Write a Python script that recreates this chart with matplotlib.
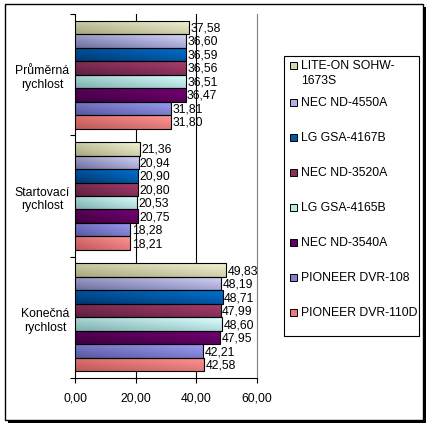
import matplotlib
matplotlib.use('Agg')
import matplotlib.pyplot as plt
import numpy as np
from matplotlib.patches import Rectangle
from matplotlib.colors import to_rgb

plt.rcParams['font.family'] = ['Liberation Sans', 'DejaVu Sans']

# kategorie (shora dolu)
groups = ['Průměrná\nrychlost', 'Startovací\nrychlost', 'Konečná\nrychlost']

# mechaniky
drives = ['LITE-ON SOHW-\n1673S', 'NEC ND-4550A', 'LG GSA-4167B', 'NEC ND-3520A',
          'LG GSA-4165B', 'NEC ND-3540A', 'PIONEER DVR-108', 'PIONEER DVR-110D']

lite_on_1673s = [37.58, 21.36, 49.83]
nec_4550a = [36.60, 20.94, 48.19]
lg_4167b = [36.59, 20.90, 48.71]
nec_3520a = [36.56, 20.80, 47.99]
lg_4165b = [36.51, 20.53, 48.60]
nec_3540a = [36.47, 20.75, 47.95]
pioneer_108 = [31.81, 18.28, 42.21]
pioneer_110d = [31.80, 18.21, 42.58]

values = [lite_on_1673s, nec_4550a, lg_4167b, nec_3520a,
          lg_4165b, nec_3540a, pioneer_108, pioneer_110d]

# barvy: (tmava, svetla) pro gradient
dark = ['#a8a880', '#7070a0', '#003870', '#602040',
        '#80b0b0', '#400040', '#5858a0', '#c05858']
light = ['#f2f2d2', '#d4d4fa', '#0070d0', '#a83c6c',
         '#dcffff', '#740074', '#9c9cf4', '#ff9494']
mid = ['#d8d8b0', '#b0b0e0', '#0058a8', '#883058',
       '#b8e8e8', '#600060', '#8080d8', '#f07878']

fs = 8.8
W, H = 431, 427
fig = plt.figure(figsize=(W / 100, H / 100), dpi=100)

# ramecek se stinem
fig.patches.append(Rectangle((8 / W, 1 - 424 / H), 418 / W, 416 / H,
                             transform=fig.transFigure, facecolor='black',
                             edgecolor='none', zorder=-2))
fig.patches.append(Rectangle((5 / W, 1 - 421 / H), 418 / W, 416 / H,
                             transform=fig.transFigure, facecolor='white',
                             edgecolor='black', linewidth=1.0, zorder=-1))

ax = fig.add_axes([75 / W, 1 - 379 / H, 182 / W, 364 / H])
ax.set_facecolor('none')

n = len(drives)
group_h = 0.89
bar_h = group_h / n
y0 = np.arange(len(groups))

for i in range(n):
    ys = y0 - group_h / 2 + (i + 0.5) * bar_h
    bars = ax.barh(ys, values[i], height=bar_h, color=mid[i],
                   edgecolor='black', linewidth=0.8, zorder=3,
                   label=drives[i])
    c0 = np.array(to_rgb(dark[i]))
    c1 = np.array(to_rgb(light[i]))
    for b, v, y in zip(bars, values[i], ys):
        u = np.linspace(0, 1, 64)[None, :]
        w = np.linspace(0, 1, 8)[:, None]
        t = np.clip(0.55 * u + 0.45 * w, 0, 1)
        img = c0[None, None, :] + t[:, :, None] * (c1 - c0)[None, None, :]
        im = ax.imshow(img, extent=(0, v, y + bar_h / 2, y - bar_h / 2),
                       origin='lower', aspect='auto', zorder=2.9,
                       interpolation='bilinear')
        im.set_clip_path(b)
        b.set_facecolor('none')
        ax.annotate(f'{v:.2f}'.replace('.', ','), (v, y),
                    xytext=(1, 0), textcoords='offset points',
                    va='center', ha='left', fontsize=fs, zorder=5)

ax.set_xlim(0, 60)
ax.set_ylim(2.5, -0.5)

ax.set_xticks([0, 20, 40, 60])
ax.set_xticklabels(['0,00', '20,00', '40,00', '60,00'])
ax.tick_params(axis='x', direction='out', length=3.5, width=0.8,
               pad=6, labelsize=fs)

ax.set_yticks([-0.5, 0.5, 1.5, 2.5])
ax.set_yticklabels([])
ax.set_yticks(y0, minor=True)
ax.set_yticklabels(groups, minor=True, multialignment='center')
ax.tick_params(axis='y', which='major', direction='out', length=3.5, width=0.8)
ax.tick_params(axis='y', which='minor', length=0, pad=4, labelsize=fs)

for x in [20, 40]:
    ax.axvline(x, color='black', linewidth=0.8, zorder=1)

ax.spines['top'].set_visible(False)
ax.spines['right'].set_color('#808080')
ax.spines['right'].set_linewidth(0.8)
ax.spines['left'].set_linewidth(0.8)
ax.spines['bottom'].set_linewidth(0.8)

# legenda
fig.patches.append(Rectangle((284 / W, 1 - 337 / H), 135 / W, 280 / H,
                             transform=fig.transFigure, facecolor='white',
                             edgecolor='black', linewidth=0.8, zorder=1))
leg_y = [66] + [103 + 35 * k for k in range(n - 1)]
for i in range(n):
    yc = leg_y[i]
    fig.patches.append(Rectangle((290 / W, 1 - (yc + 3.5) / H), 7 / W, 7 / H,
                                 transform=fig.transFigure, facecolor=mid[i],
                                 edgecolor='black', linewidth=0.7, zorder=2))
    fig.text(301 / W, 1 - (yc - 6) / H, drives[i], fontsize=fs,
             va='top', ha='left', linespacing=1.3)

plt.savefig('out.png', dpi=100)
